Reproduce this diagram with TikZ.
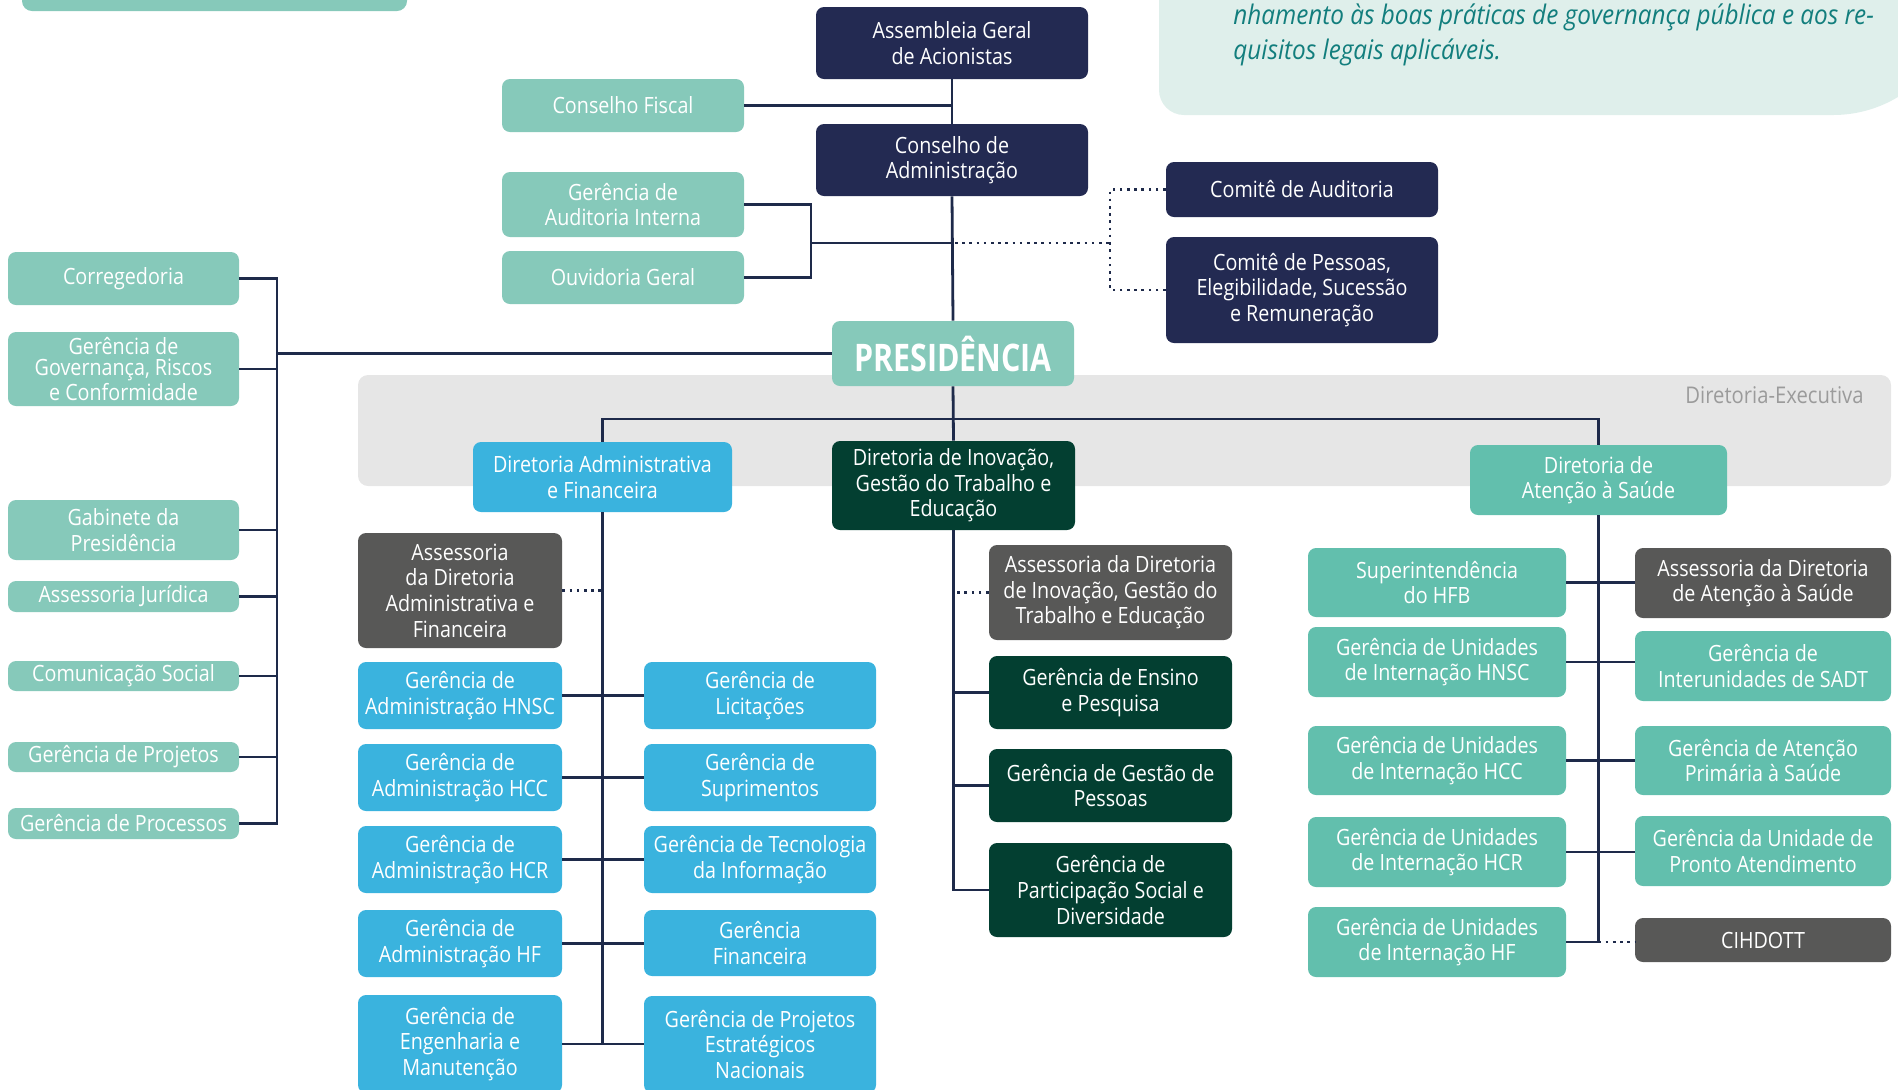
\documentclass[tikz,border=0pt]{standalone}
\usepackage{fontspec}
\setmainfont{Open Sans}
\newfontfamily\boxfont{Open Sans}[FakeStretch=0.88]
\newfontfamily\presfont{Open Sans}[FakeStretch=0.8]
\newfontfamily\itfont{Open Sans}[FakeStretch=0.9]
\definecolor{navy}{HTML}{232A52}
\definecolor{lteal}{HTML}{86C9BA}
\definecolor{tealc}{HTML}{62BFAD}
\definecolor{bluec}{HTML}{3AB3DE}
\definecolor{dkgreen}{HTML}{033F31}
\definecolor{greyc}{HTML}{585857}
\definecolor{bandc}{HTML}{E6E6E6}
\definecolor{lboxc}{HTML}{DFEFEB}
\definecolor{itc}{HTML}{127E7D}
\definecolor{linec}{HTML}{1E2A4A}
\definecolor{detext}{HTML}{9B9B9B}
\tikzset{
  box/.style={rounded corners=4pt, inner sep=0pt, align=center, text=white,
    font=\boxfont\fontsize{11.2}{12.8}\selectfont},
  navybox/.style={box, fill=navy},
  ltealbox/.style={box, fill=lteal},
  tealbox/.style={box, fill=tealc},
  bluebox/.style={box, fill=bluec},
  greenbox/.style={box, fill=dkgreen},
  greybox/.style={box, fill=greyc},
  presbox/.style={box, fill=lteal, font=\presfont\fontsize{19}{22}\selectfont\bfseries},
  govbox/.style={box, fill=lteal, font=\boxfont\fontsize{11.2}{10.3}\selectfont},
  conn/.style={draw=linec, line width=1.4pt},
  dotline/.style={draw=linec, line width=1.4pt, dash pattern=on 1.3pt off 2.3pt},
  ittext/.style={anchor=base west, inner sep=0pt, text=itc, font=\itfont\itshape\fontsize{13.5}{16}\selectfont},
}
\newcommand\bx[7]{%
  \pgfmathsetmacro\cx{(#3+#5)/2}\pgfmathsetmacro\cy{(#4+#6)/2}%
  \pgfmathsetmacro\ww{(#5-#3)*0.5}\pgfmathsetmacro\hh{(#6-#4)*0.5}%
  \node[#2, minimum width=\ww pt, minimum height=\hh pt] (#1) at (\cx,\cy) {#7};}
\begin{document}
\begin{tikzpicture}[x=0.5pt,y=-0.5pt]
\useasboundingbox (0,0) rectangle (1898,1089);
\clip (0,0) rectangle (1898,1089);
% top decorations
\fill[lteal, rounded corners=5pt] (22,-12) rectangle (407,11);
\fill[lboxc] (1159,-40) [rounded corners=12.5pt] -- (1159,115) [rounded corners=63pt] -- (1959,115) [sharp corners] -- (1959,-40) -- cycle;
\node[ittext] (it1) at (1233,24) {nhamento às boas práticas de governança pública e aos re-};
\node[ittext] (it2) at (1233,59) {quisitos legais aplicáveis.};
% band
\fill[bandc, rounded corners=5pt] (358,375) rectangle (1891,486);
\node[anchor=base east, inner sep=0pt, text=detext, font=\boxfont\fontsize{11.5}{13}\selectfont] (dex) at (1864,403) {Diretoria-Executiva};
% top governance
\bx{asm}{navybox}{816}{7}{1088}{79}{Assembleia Geral\\de Acionistas}
\bx{cfis}{ltealbox}{502}{79}{744}{132}{Conselho Fiscal}
\bx{cadm}{navybox}{816}{124}{1088}{196}{Conselho de\\Administração}
\bx{gaud}{ltealbox}{502}{172}{744}{237}{Gerência de\\Auditoria Interna}
\bx{ouv}{ltealbox}{502}{251}{744}{304}{Ouvidoria Geral}
\bx{caud}{navybox}{1166}{162}{1438}{217}{Comitê de Auditoria}
\bx{cpes}{navybox}{1166}{237}{1438}{343}{Comitê de Pessoas,\\Elegibilidade, Sucessão\\e Remuneração}
\bx{pres}{presbox}{832}{321}{1074}{386}{PRESIDÊNCIA}
% left column
\bx{corr}{ltealbox}{8}{252}{239}{305}{Corregedoria}
\bx{gov}{govbox}{8}{332}{239}{406}{Gerência de\\Governança, Riscos\\e Conformidade}
\bx{gab}{ltealbox}{8}{500}{239}{560}{Gabinete da\\Presidência}
\bx{jur}{ltealbox}{8}{581}{239}{612}{Assessoria Jurídica}
\bx{com}{ltealbox}{8}{661}{239}{691}{Comunicação Social}
\bx{proj}{ltealbox}{8}{742}{239}{772}{Gerência de Projetos}
\bx{proc}{ltealbox}{8}{808}{239}{839}{Gerência de Processos}
% directorates
\bx{daf}{bluebox}{473}{442}{732}{512}{Diretoria Administrativa\\e Financeira}
\bx{digte}{greenbox}{832}{441}{1075}{530}{Diretoria de Inovação,\\Gestão do Trabalho e\\Educação}
\bx{das}{tealbox}{1470}{445}{1727}{515}{Diretoria de\\Atenção à Saúde}
% DAF
\bx{adaf}{greybox}{358}{533}{562}{648}{Assessoria\\da Diretoria\\Administrativa e\\Financeira}
\bx{ghnsc}{bluebox}{358}{662}{562}{729}{Gerência de\\Administração HNSC}
\bx{ghcc}{bluebox}{358}{744}{562}{811}{Gerência de\\Administração HCC}
\bx{ghcr}{bluebox}{358}{826}{562}{893}{Gerência de\\Administração HCR}
\bx{ghf}{bluebox}{358}{910}{562}{977}{Gerência de\\Administração HF}
\bx{geng}{bluebox}{358}{995}{562}{1093}{Gerência de\\Engenharia e\\Manutenção}
\bx{glic}{bluebox}{644}{662}{876}{729}{Gerência de\\Licitações}
\bx{gsup}{bluebox}{644}{744}{876}{811}{Gerência de\\Suprimentos}
\bx{gti}{bluebox}{644}{826}{876}{893}{Gerência de Tecnologia\\da Informação}
\bx{gfin}{bluebox}{644}{910}{876}{976}{Gerência\\Financeira}
\bx{gpen}{bluebox}{644}{996}{876}{1093}{Gerência de Projetos\\Estratégicos\\Nacionais}
% DIGTE
\bx{adig}{greybox}{989}{545}{1232}{640}{Assessoria da Diretoria\\de Inovação, Gestão do\\Trabalho e Educação}
\bx{gens}{greenbox}{989}{656}{1232}{729}{Gerência de Ensino\\e Pesquisa}
\bx{gpes}{greenbox}{989}{749}{1232}{822}{Gerência de Gestão de\\Pessoas}
\bx{gpar}{greenbox}{989}{843}{1232}{937}{Gerência de\\Participação Social e\\Diversidade}
% DAS
\bx{sup}{tealbox}{1308}{548}{1566}{617}{Superintendência\\do HFB}
\bx{uhnsc}{tealbox}{1308}{627}{1566}{697}{Gerência de Unidades\\de Internação HNSC}
\bx{uhcc}{tealbox}{1308}{726}{1566}{795}{Gerência de Unidades\\de Internação HCC}
\bx{uhcr}{tealbox}{1308}{817}{1566}{887}{Gerência de Unidades\\de Internação HCR}
\bx{uhf}{tealbox}{1308}{907}{1566}{977}{Gerência de Unidades\\de Internação HF}
\bx{adas}{greybox}{1635}{548}{1891}{618}{Assessoria da Diretoria\\de Atenção à Saúde}
\bx{gisadt}{tealbox}{1635}{631}{1891}{701}{Gerência de\\Interunidades de SADT}
\bx{gaps}{tealbox}{1635}{726}{1891}{795}{Gerência de Atenção\\Primária à Saúde}
\bx{gupa}{tealbox}{1635}{816}{1891}{886}{Gerência da Unidade de\\Pronto Atendimento}
\bx{cih}{greybox}{1635}{918}{1891}{962}{CIHDOTT}
% connectors: top
\draw[conn] (asm.south) -- (cadm.north);
\draw[conn] (cadm.south) -- (pres.north);
\draw[conn] (cfis.east) -- (cfis.east -| asm.south);
\coordinate (ja) at (811,243);
\coordinate (jd) at (1110,243);
\draw[conn] (gaud.east) -| (ja) |- (ouv.east);
\draw[conn] (ja) -- (ja -| cadm.south);
\draw[dotline] ([xshift=1.5pt]ja -| cadm.south) -- (jd);
\draw[dotline] (caud.west) -| (jd);
\draw[dotline] (cpes.west) -| (jd);
% left
\coordinate (jl) at (277,0);
\draw[conn] (corr.east) -- (corr.east -| jl) -- (proc.east -| jl) -- (proc.east);
\foreach \n in {gov,gab,jur,com,proj} \draw[conn] (\n.east) -- (\n.east -| jl);
\draw[conn] (pres.west) -- (pres.west -| jl);
% directorates
\coordinate (jt) at (0,419);
\draw[conn] (daf.north) |- (das.north |- jt) -- (das.north);
\draw[conn] (pres.south) -- (digte.north);
% DAF
\draw[conn] (daf.south) -- (daf.south |- gpen.west);
\draw[dotline] (adaf.east) -- (adaf.east -| daf.south);
\draw[conn] (ghnsc.east) -- (ghnsc.east -| glic.west);
\draw[conn] (ghcc.east) -- (ghcc.east -| gsup.west);
\draw[conn] (ghcr.east) -- (ghcr.east -| gti.west);
\draw[conn] (ghf.east) -- (ghf.east -| gfin.west);
\draw[conn] (geng.east) -- (geng.east -| gpen.west);
% DIGTE
\draw[conn] (digte.south) -- (digte.south |- gpar.west) -- (gpar.west);
\draw[conn] (gens.west) -- (gens.west -| digte.south);
\draw[conn] (gpes.west) -- (gpes.west -| digte.south);
\draw[dotline] (adig.west) -- (adig.west -| digte.south);
% DAS
\draw[conn] (das.south) -- (das.south |- uhf.east) -- (uhf.east);
\draw[conn] (sup.east) -- (sup.east -| adas.west);
\draw[conn] (uhnsc.east) -- (uhnsc.east -| gisadt.west);
\draw[conn] (uhcc.east) -- (uhcc.east -| gaps.west);
\draw[conn] (uhcr.east) -- (uhcr.east -| gupa.west);
\draw[dotline] (uhf.east -| das.south) -- (uhf.east -| cih.west);
\end{tikzpicture}
\end{document}
